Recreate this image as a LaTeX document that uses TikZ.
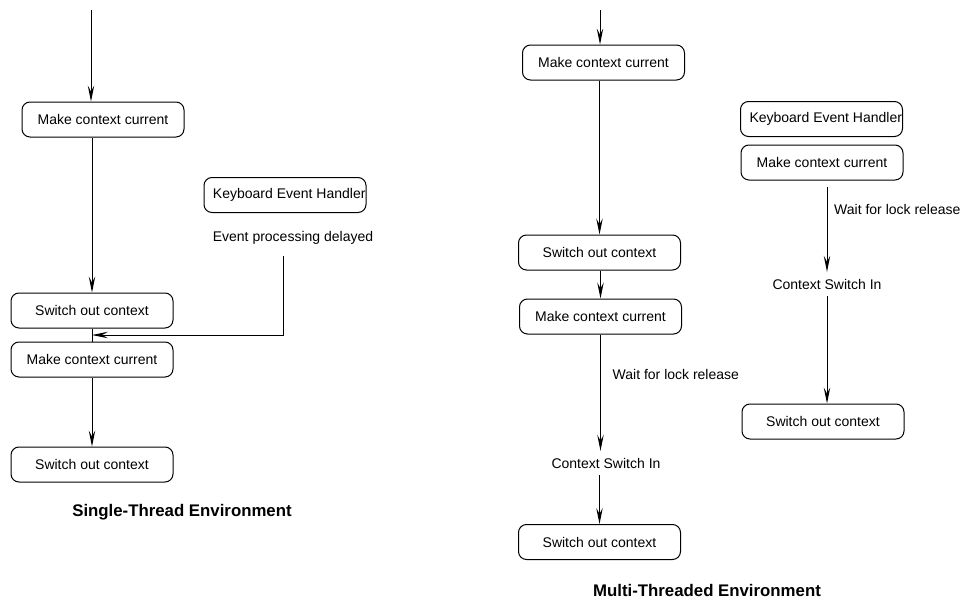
\documentclass[tikz,border=0pt]{standalone}
\usepackage{fontspec}
\setmainfont{Liberation Sans}
\usepackage{tikz}
\usetikzlibrary{shapes,arrows.meta,calc}
\tikzstyle{state}=[rectangle,
	rounded corners=4pt,
	draw=black,
	line width=0.5pt,
	minimum width=81pt,
	minimum height=17.5pt,
	font=\fontsize{7}{8.4}\selectfont]
\tikzstyle{handler}=[state,
	inner xsep=4.5pt]
\tikzstyle{note}=[font=\fontsize{7}{8.4}\selectfont]
\tikzstyle{heading}=[font=\fontsize{8.4}{10}\selectfont\bfseries]
\tikzstyle{link}=[line width=0.5pt]
\tikzstyle{flow}=[link,
	-{Stealth[length=8pt,width=3.2pt,inset=3pt]}]

\begin{document}
\begin{tikzpicture}[x=0.5pt,y=-0.5pt]
	\useasboundingbox (0,0) rectangle (966,600);

	\coordinate (in1) at (91,10);
	\node (mcc1) [state] at (103,119.5){Make context current};
	\draw[flow] (in1) -- (in1 |- mcc1.north);
	\node (soc1) [state, below of=mcc1, node distance=95.5pt, xshift=-5.5pt]{Switch out context};
	\draw[flow] (soc1.north |- mcc1.south) -- (soc1.north);
	\node (mcc2) [state, below of=soc1, node distance=24.5pt]{Make context current};
	\draw[link] (soc1.south) -- (mcc2.north);
	\node (soc2) [state, below of=mcc2, node distance=52.5pt]{Switch out context};
	\draw[flow] (mcc2) -- (soc2);
	\node (keh1) [handler] at (285,195){\makebox[72pt][l]{Keyboard Event Handler}};
	\node (delay) [note, below of=keh1, node distance=21.5pt, xshift=4pt]{Event processing delayed};
	\coordinate[below of=delay, node distance=9pt, xshift=-5pt] (evt);
	\coordinate (join) at ($(soc1.south)!.5!(mcc2.north)$);
	\draw[flow] (evt) |- (join);
	\node (title1) [heading] at (182,512){Single-Thread Environment};

	\coordinate (in2) at (600,10);
	\node (mcc3) [state] at (603.5,62.5){Make context current};
	\draw[flow] (in2) -- (in2 |- mcc3.north);
	\node (soc3) [state, below of=mcc3, node distance=95pt, xshift=-2pt]{Switch out context};
	\draw[flow] (soc3.north |- mcc3.south) -- (soc3.north);
	\node (mcc4) [state, below of=soc3, node distance=32pt, xshift=0.5pt]{Make context current};
	\draw[flow] (mcc4.north |- soc3.south) -- (mcc4.north);
	\node (csi1) [note, below of=mcc4, node distance=73.25pt, xshift=2.75pt]{Context Switch In};
	\draw[flow] (mcc4.south) -- (mcc4.south |- csi1.north) node[note, right, pos=.34, xshift=2.5pt] (wait1){Wait for lock release};
	\node (soc4) [state, below of=csi1, node distance=39.5pt, xshift=-3.25pt]{Switch out context};
	\draw[flow] (soc4.north |- csi1.south) -- (soc4.north);
	\node (title2) [heading] at (707,590){Multi-Threaded Environment};

	\node (keh2) [handler] at (821.5,119){\makebox[72pt][l]{Keyboard Event Handler}};
	\node (mcc5) [state, below of=keh2, node distance=21.75pt, xshift=0.25pt]{Make context current};
	\node (csi2) [note, below of=mcc5, node distance=60.75pt, xshift=2.5pt]{Context Switch In};
	\draw[flow] ([yshift=-3pt]mcc5.south -| csi2) -- (csi2.north) node[note, right, pos=.27] (wait2){Wait for lock release};
	\node (soc5) [state, below of=csi2, node distance=68.75pt, xshift=-2pt]{Switch out context};
	\draw[flow] (csi2.south) -- (csi2.south |- soc5.north);
\end{tikzpicture}
\end{document}
